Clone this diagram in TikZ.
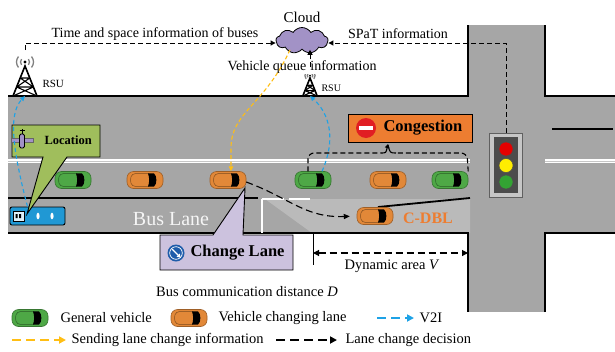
\documentclass[tikz,border=0pt]{standalone}
\usepackage{fontspec}
\setmainfont{Liberation Serif}
\usetikzlibrary{arrows.meta,shapes.symbols,calc}

\definecolor{road}{RGB}{166,166,166}
\definecolor{cdblzone}{RGB}{186,186,186}
\definecolor{greencar}{RGB}{78,168,70}
\definecolor{orangecar}{RGB}{226,136,56}
\definecolor{congorange}{RGB}{237,125,49}
\definecolor{locgreen}{RGB}{160,190,92}
\definecolor{chgpurple}{RGB}{204,194,222}
\definecolor{cloudpurple}{RGB}{162,146,198}
\definecolor{busblue}{RGB}{32,152,212}
\definecolor{vblue}{RGB}{30,162,230}
\definecolor{lcyellow}{RGB}{255,190,20}
\definecolor{iconblue}{RGB}{30,92,170}
\definecolor{stopred}{RGB}{225,30,35}

\newcommand{\fsz}[1]{\fontsize{#1}{#1}\selectfont}

\tikzset{
  kerb/.style={line width=2pt, black},
  infoline/.style={line width=1pt, dash pattern=on 5pt off 3pt},
  vtwoi/.style={vblue, line width=1.1pt, dash pattern=on 4pt off 3pt, -{Triangle[length=5pt,width=4.5pt]}},
  lanechg/.style={lcyellow, line width=1.1pt, dash pattern=on 4pt off 2.5pt, -{Triangle[length=5pt,width=4.5pt]}},
  decision/.style={black, line width=1.1pt, dash pattern=on 7pt off 4pt, -{Triangle[length=6pt,width=5pt]}},
  legarrow/.style={line width=1.8pt, dash pattern=on 9pt off 5pt, -{Triangle[length=7pt,width=7pt]}},
  car/.pic={
    \node[inner sep=0pt, minimum width=36pt, minimum height=17pt] (-body) {};
    \filldraw[fill=#1, draw=#1!70!black, line width=0.6pt, rounded corners=6.5pt] (-18,-8.5) rectangle (18,8.5);
    \draw[#1!55!black, line width=0.5pt, rounded corners=3pt] (4,-6.3) -- (-13,-6.3) -- (-15,0) -- (-13,6.3) -- (4,6.3);
    \fill[black] (3,-6.6) -- (9,-6.6) .. controls (12.2,-4) and (12.2,4) .. (9,6.6) -- (3,6.6) .. controls (4.6,2) and (4.6,-2) .. (3,-6.6) -- cycle;
  },
  rsu/.pic={
    \coordinate (-base) at (0,0);
    \coordinate (-top) at (0,-46);
    \draw[line width=1.6pt, line join=miter] (-12,0) -- (0,-30) -- (12,0);
    \draw[line width=1.4pt] (-15,0) -- (15,0);
    \draw[line width=1.1pt] (-8.4,-9) -- (8.4,-9) (-4.8,-18) -- (4.8,-18)
      (-12,0) -- (8.4,-9) (12,0) -- (-8.4,-9) (-8.4,-9) -- (4.8,-18) (8.4,-9) -- (-4.8,-18);
    \fill (0,-34) circle (1.6);
    \draw[gray, line width=1.3pt]
      (0,-34) ++(140:4.5) arc (140:220:4.5)
      (0,-34) ++(140:8.5) arc (140:220:8.5)
      (0,-34) ++(-40:4.5) arc (-40:40:4.5)
      (0,-34) ++(-40:8.5) arc (-40:40:8.5);
  },
}

\begin{document}
\begin{tikzpicture}[x=1pt,y=-1pt]
\useasboundingbox (0,0) rectangle (615,351);

% ---------------- roads ----------------
\fill[road] (8,96) rectangle (615,233);
\fill[road] (468,25) rectangle (545,312);
\fill[cdblzone] (265,199) -- (470,199) -- (470,233) -- (312,233) -- cycle;

\draw[kerb] (8,96) -- (468,96) -- (468,25);
\draw[kerb] (545,25) -- (545,96) -- (615,96);
\draw[kerb] (8,233) -- (468,233) -- (468,312);
\draw[kerb] (545,312) -- (545,233) -- (615,233);

% lane markings
\draw[white, line width=3.4pt] (8,161) -- (470,161) (545,161) -- (615,161);
\draw[gray!45, line width=0.5pt] (8,161) -- (470,161) (545,161) -- (615,161);
\draw[line width=2pt] (552,129) -- (613,129);
\draw[line width=1.8pt] (8,198) -- (258,198);
\draw[white, line width=2.5pt, dash pattern=on 22pt off 5pt] (262,199) -- (310,199);
\draw[white, line width=2pt] (262,199) -- (262,233);
\draw[line width=1.8pt] (378,207) -- (470,198);

% ---------------- vehicles ----------------
\pic (c1) at (73,180) {car=greencar};
\pic (c2) at (145,180) {car=orangecar};
\pic (c3) at (228,180) {car=orangecar};
\pic (c4) at (313,180) {car=greencar};
\pic (c5) at (388,180) {car=orangecar};
\pic (c6) at (450,180) {car=greencar};
\pic (c7) at (375,216) {car=orangecar};

% bus
\node[draw=black, line width=0.9pt, fill=busblue, rounded corners=2pt, minimum width=55pt, minimum height=18pt, inner sep=0pt] (bus) at (37.5,216) {};
\filldraw[fill=white!85!busblue, draw=black, line width=0.5pt] (13,211) rectangle (24,221);
\fill[black] (15.5,214) rectangle (17.5,218) (19,214) rectangle (21,218);
\fill[white] (38,216) ellipse (1.6 and 3.3) (52,216) ellipse (1.6 and 3.3);

\node[font=\fsz{20}, text=white!92!gray] (buslane) at (171,219) {Bus Lane};
\node[font=\fsz{16}\bfseries, text=congorange] (cdbl) at (428,218) {C-DBL};

% ---------------- traffic light ----------------
\node[draw=gray!75!black, fill=gray!45, line width=0.6pt, minimum width=33pt, minimum height=64pt, inner sep=0pt] (tl) at (506,165) {};
\fill[gray!120!black!60] (494,137) rectangle (518,193);
\fill[gray!60!black] (494,137) rectangle (518,193);
\filldraw[fill=red!90!black, draw=black!70, line width=0.5pt] (506,149) circle (7);
\filldraw[fill=yellow!95!orange, draw=black!70, line width=0.5pt] (506,165.5) circle (7);
\filldraw[fill=green!55!black!80!white, draw=black!70, line width=0.5pt] (506,182) circle (7);

% ---------------- cloud and road side units ----------------
\node[cloud, cloud puffs=9, cloud puff arc=115, aspect=2.1, draw=black, line width=0.8pt, fill=cloudpurple, minimum width=52pt, minimum height=26pt, inner sep=0pt] (cloud) at (302,40.5) {};
\node[font=\fsz{15}] (cloudlbl) at (302,17) {Cloud};

\pic (rsuA) at (25,96) {rsu};
\pic[scale=0.6] (rsuB) at (310,96) {rsu};
\node[font=\fsz{11}, anchor=west] (rsuAlbl) at (39,84) {RSU};
\node[font=\fsz{10}, anchor=west] (rsuBlbl) at (318,88) {RSU};

% information flows to the cloud
\draw[infoline, -{Triangle[length=5pt,width=5pt]}] (rsuA-top) |- ([yshift=-2.5pt]cloud.west);
\draw[infoline, -{Triangle[length=5pt,width=5pt]}] (tl.north) |- ([yshift=-2.5pt]cloud.east);
\node[font=\fsz{14}] (tslbl) at (155,34) {Time and space information of buses};
\node[font=\fsz{14}] (spatlbl) at (398,34) {SPaT information};
\node[font=\fsz{14}, fill=white, inner sep=0.5pt] (queuelbl) at (302,67) {Vehicle queue\hspace{4pt}information};
\draw[infoline, -{Triangle[length=5pt,width=5pt]}] ([yshift=1pt]rsuB-top) -- (rsuB-top |- cloud.south);

% ---------------- callouts ----------------
\filldraw[fill=locgreen, draw=black, line width=0.9pt, line join=miter]
  (12,125) -- (100,125) -- (100,157) -- (67,157) -- (27,214) -- (43,157) -- (12,157) -- cycle;
% satellite
\filldraw[fill=cloudpurple, draw=black!60, line width=0.4pt] (11,138) rectangle (19.5,142.5) (24.5,138) rectangle (33,142.5);
\filldraw[fill=cloudpurple, draw=black, line width=0.8pt, rounded corners=1.5pt] (19.5,134) rectangle (24.5,148);
\draw[line width=1pt] (22,134) -- (22,129) (19.5,130.5) -- (24.5,130.5);
\node[font=\fsz{12.5}\bfseries, anchor=west] (loclbl) at (41,140) {Location};

\node[draw=black, fill=congorange, line width=0.9pt, minimum width=124pt, minimum height=28pt, inner sep=0pt] (cong) at (410,128) {};
\fill[stopred] (366,128) circle (10);
\fill[white] (359,125.8) rectangle (373,130.4);
\node[font=\fsz{16.5}\bfseries, anchor=west] (conglbl) at (380,128) {Congestion};

\filldraw[fill=chgpurple, draw=black, line width=0.9pt, line join=miter]
  (160,270) -- (160,235) -- (213,235) -- (245,188) -- (243,235) -- (293,235) -- (293,270) -- cycle;
\fill[iconblue] (176,253) circle (8.5);
\draw[white, line width=0.7pt] (176,253) circle (6.3);
\draw[white, line width=1.4pt, -{Triangle[length=3.4pt,width=4.2pt]}] (172.2,249.2) -- (180.6,257.6);
\node[font=\fsz{16.5}\bfseries, anchor=west] (chglbl) at (187,253) {Change Lane};

% ---------------- connectors on the road ----------------
\draw[vtwoi] ([xshift=-10pt]bus.north) .. controls (10,140) and (10,112) .. (rsuA-base);
\draw[vtwoi] ([xshift=9pt]c4-body.north) .. controls (336,140) and (330,114) .. (rsuB-base);
\draw[lanechg] ([xshift=-12pt]cloud.south) .. controls (265,105) and (231,112) .. (231,148) -- ([xshift=3pt]c3-body.north);
\draw[decision, shorten >=7pt] ([yshift=-2pt]c3-body.east) .. controls (290,198) and (305,218) .. (c7-body.west);

% congestion bracket
\draw[infoline, line width=1.1pt, rounded corners=6pt] ([xshift=-5pt]c4-body.north) -- (308,153) -- (381,153);
\draw[infoline, line width=1.1pt, rounded corners=6pt] (c6-body.north east) -- (467,153) -- (396,153);
\draw[line width=1.1pt, -{Triangle[length=4pt,width=4.5pt]}] (381,153) .. controls (386,153) .. (388,144);
\draw[line width=1.1pt] (396,153) .. controls (390,153) .. (388,145);

% ---------------- distances ----------------
\coordinate (dA) at (313,253);
\coordinate (dB) at (468,253);
\draw[line width=1pt] (313,233) -- (313,265);
\draw[black, line width=1.1pt, dash pattern=on 7pt off 4pt, {Triangle[length=6pt,width=6pt]}-{Triangle[length=6pt,width=6pt]}] (dA) -- (dB);
\node[font=\fsz{14.5}] (dynlbl) at (392,266) {Dynamic area \textit{V}};
\node[font=\fsz{14.5}] (distlbl) at (247,292) {Bus communication distance \textit{D}};

% ---------------- legend ----------------
\pic (lg1) at (30,318) {car=greencar};
\node[font=\fsz{14.5}, anchor=west] (lgt1) at (57,318) {General vehicle};
\pic (lg2) at (189,318) {car=orangecar};
\node[font=\fsz{14.5}, anchor=west] (lgt2) at (215,318) {Vehicle changing lane};
\coordinate (lb1) at (377,318);
\coordinate (lb2) at (414,318);
\draw[legarrow, vblue] (lb1) -- (lb2);
\node[font=\fsz{14.5}, anchor=west] (lgt3) at (416,318) {V2I};
\coordinate (ly1) at (12,340);
\coordinate (ly2) at (66,340);
\draw[legarrow, lcyellow] (ly1) -- (ly2);
\node[font=\fsz{14.5}, anchor=west] (lgt4) at (68,340) {Sending lane change information};
\coordinate (lk1) at (276,340);
\coordinate (lk2) at (337,340);
\draw[legarrow, black] (lk1) -- (lk2);
\node[font=\fsz{14.5}, anchor=west] (lgt5) at (342,340) {Lane change decision};
\end{tikzpicture}
\end{document}
